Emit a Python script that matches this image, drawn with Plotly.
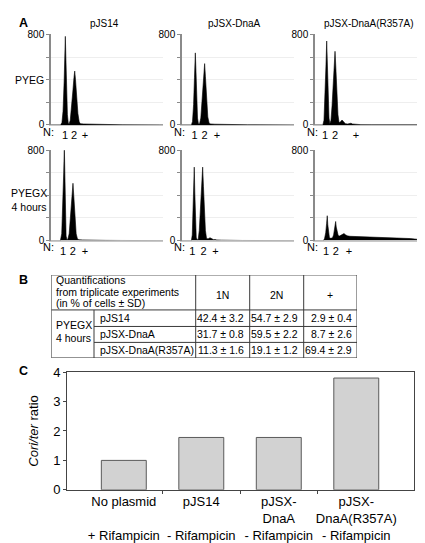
import plotly.graph_objects as go

# ---------------- DATA ----------------
# Panel A: flow cytometry histograms (DNA content channel vs cell count)
col_titles = ["pJS14", "pJSX-DnaA", "pJSX-DnaA(R357A)"]
row_titles = ["PYEG", "PYEGX<br>4 hours"]
n_tick_text = ["1", "2", "+"]

pJS14_PYEG_ch = [0, 88, 100, 110, 120, 126, 131, 136, 142, 150, 158, 166, 176, 188, 200, 210, 217, 224, 234, 246, 258, 270, 300, 350, 420, 520, 650, 1024]
pJS14_PYEG_cnt = [0, 0, 20, 120, 380, 620, 783, 600, 330, 90, 15, 10, 40, 150, 300, 420, 476, 400, 250, 100, 25, 10, 8, 6, 4, 2, 1, 0]
pJS14_PYEG_nticks = [128, 210, 311]

DnaA_PYEG_ch = [0, 86, 96, 106, 114, 122, 128, 134, 142, 150, 160, 172, 184, 196, 207, 214, 224, 236, 248, 262, 300, 360, 450, 600, 1024]
DnaA_PYEG_cnt = [0, 0, 30, 180, 420, 637, 470, 260, 60, 10, 8, 60, 200, 400, 542, 430, 230, 70, 15, 8, 6, 4, 2, 1, 0]
DnaA_PYEG_nticks = [115, 207, 320]

R357A_PYEG_ch = [0, 72, 82, 92, 100, 107, 113, 120, 128, 136, 146, 156, 166, 176, 183, 190, 200, 210, 220, 232, 247, 262, 278, 300, 318, 329, 342, 370, 420, 520, 1024]
R357A_PYEG_cnt = [0, 0, 40, 250, 520, 742, 520, 250, 60, 10, 40, 170, 380, 560, 651, 520, 280, 90, 20, 25, 43, 30, 10, 8, 12, 15, 8, 4, 2, 1, 0]
R357A_PYEG_nticks = [91, 183, 375]

pJS14_PYEGX_ch = [0, 86, 98, 108, 116, 122, 127, 132, 138, 146, 154, 166, 178, 190, 201, 208, 218, 230, 242, 256, 290, 340, 410, 500, 650, 1024]
pJS14_PYEGX_cnt = [0, 0, 60, 280, 600, 830, 560, 230, 40, 8, 12, 60, 200, 380, 507, 400, 220, 60, 15, 8, 6, 4, 3, 2, 1, 0]
pJS14_PYEGX_nticks = [110, 200, 311]

DnaA_PYEGX_ch = [0, 86, 94, 102, 108, 112, 117, 123, 130, 138, 148, 158, 168, 178, 189, 196, 205, 214, 224, 238, 256, 272, 290, 302, 318, 360, 430, 550, 1024]
DnaA_PYEGX_cnt = [0, 0, 50, 250, 500, 650, 430, 180, 30, 8, 10, 90, 280, 500, 650, 480, 250, 90, 20, 15, 25, 14, 8, 10, 6, 4, 2, 1, 0]
DnaA_PYEGX_nticks = [95, 198, 305]

R357A_PYEGX_ch = [0, 78, 88, 98, 106, 112, 117, 124, 132, 145, 160, 170, 178, 184, 189, 194, 202, 212, 224, 240, 255, 265, 278, 295, 320, 380, 450, 520, 600, 690, 780, 870, 950, 1010, 1024]
R357A_PYEGX_cnt = [0, 0, 20, 70, 150, 220, 140, 50, 25, 20, 25, 50, 100, 145, 169, 120, 70, 45, 40, 50, 58, 62, 52, 42, 38, 36, 35, 33, 31, 28, 24, 18, 10, 0, 0]
R357A_PYEGX_nticks = [100, 190, 311]

# Panel B: table
header_lines = ["Quantifications", "from triplicate experiments", "(in % of cells \u00b1 SD)"]
col_headers = ["1N", "2N", "+"]
condition_lines = ["PYEGX", "4 hours"]
samples = ["pJS14", "pJSX-DnaA", "pJSX-DnaA(R357A)"]
mean_1N = [42.4, 31.7, 11.3]
sd_1N = [3.2, 0.8, 1.6]
mean_2N = [54.7, 59.5, 19.1]
sd_2N = [2.9, 2.2, 1.2]
mean_plus = [2.9, 8.7, 69.4]
sd_plus = [0.4, 2.6, 2.9]

# Panel C: bar chart
bar_names = ["No plasmid", "pJS14", "pJSX-DnaA", "pJSX-DnaA(R357A)"]
bar_label_lines = ["No plasmid<br>&nbsp;", "pJS14<br>&nbsp;", "pJSX-<br>DnaA", "pJSX-<br>DnaA(R357A)"]
rifampicin = ["+ Rifampicin", "- Rifampicin", "- Rifampicin", "- Rifampicin"]
cori_ter_ratio = [1.0, 1.78, 1.78, 3.80]

# ---------------- LAYOUT ----------------
W, H = 425, 543
FONT = "Liberation Sans, Arial, sans-serif"


def fx(p):
    return p / W


def fy(p):
    return 1 - p / H


fig = go.Figure()
layout = dict(
    width=W, height=H, margin=dict(l=0, r=0, t=0, b=0),
    paper_bgcolor="white", plot_bgcolor="white", showlegend=False,
    font=dict(family=FONT, color="black", size=11),
)

hist_panels = [
    [(pJS14_PYEG_ch, pJS14_PYEG_cnt, pJS14_PYEG_nticks),
     (DnaA_PYEG_ch, DnaA_PYEG_cnt, DnaA_PYEG_nticks),
     (R357A_PYEG_ch, R357A_PYEG_cnt, R357A_PYEG_nticks)],
    [(pJS14_PYEGX_ch, pJS14_PYEGX_cnt, pJS14_PYEGX_nticks),
     (DnaA_PYEGX_ch, DnaA_PYEGX_cnt, DnaA_PYEGX_nticks),
     (R357A_PYEGX_ch, R357A_PYEGX_cnt, R357A_PYEGX_nticks)],
]
col_left = [43, 174, 307]
col_w = 112
row_top = [20, 139]
row_bot = [113, 232]

annotations = []
idx = 0
for r in range(2):
    for c in range(3):
        idx += 1
        ch, cnt, nt = hist_panels[r][c]
        xa = "x%d" % idx
        ya = "y%d" % idx
        fig.add_trace(go.Scatter(x=ch, y=cnt, mode="lines", fill="tozeroy",
                                 fillcolor="black", line=dict(color="black", width=0.6),
                                 xaxis=xa, yaxis=ya, hoverinfo="skip"))
        layout["xaxis%d" % idx] = dict(
            domain=[fx(col_left[c]), fx(col_left[c] + col_w)], anchor=ya,
            range=[0, 1024], showgrid=False, zeroline=False,
            showline=True, linecolor="#c8c8c8", linewidth=1,
            tickmode="array", tickvals=nt, ticktext=n_tick_text,
            ticks="", tickfont=dict(size=11), ticklabelstandoff=0,
        )
        layout["yaxis%d" % idx] = dict(
            domain=[fy(row_bot[r]), fy(row_top[r])], anchor=xa,
            range=[0, 800], showgrid=True, gridcolor="#eeeeee", gridwidth=1,
            zeroline=False, showline=True, linecolor="#8a8a8a", linewidth=1.5,
            tickmode="array", tickvals=[0, 200, 400, 600, 800],
            ticktext=["0", "", "", "", "800"], ticks="outside", ticklen=3,
            tickcolor="#8a8a8a", tickfont=dict(size=10), ticklabelstandoff=0,
        )
        annotations.append(dict(text="N:", x=fx(col_left[c] + 5), y=fy(row_bot[r] + 7),
                                xref="paper", yref="paper", xanchor="right", yanchor="middle",
                                showarrow=False, font=dict(size=11)))

col_title_x = [96, 226, 360]
for c, t in enumerate(col_titles):
    annotations.append(dict(text=t, x=fx(col_title_x[c]), y=fy(9), xref="paper", yref="paper",
                            xanchor="center", yanchor="middle", showarrow=False, font=dict(size=10)))
row_title_y = [67, 190]
for r, t in enumerate(row_titles):
    annotations.append(dict(text=t, x=fx(21), y=fy(row_title_y[r]), xref="paper", yref="paper",
                            xanchor="center", yanchor="middle", showarrow=False,
                            font=dict(size=10.5)))

for lab, (lx, ly) in zip(["A", "B", "C"], [(16, 8), (15, 273), (15, 366)]):
    annotations.append(dict(text="<b>%s</b>" % lab, x=fx(lx), y=fy(ly), xref="paper", yref="paper",
                            xanchor="center", yanchor="middle", showarrow=False,
                            font=dict(size=12.5)))

# ---------------- Panel B: table drawn in its own pixel-unit axis ----------------
T_L, T_R, T_T, T_B = 43.3, 349, 267.3, 352.7
col_edges = [43.3, 86, 187.7, 241.7, 295.7, 349]
row_edges = [267.3, 303.3, 320.3, 336.7, 352.7]
layout["xaxis8"] = dict(domain=[fx(T_L), fx(T_R)], range=[T_L, T_R], anchor="y8", visible=False)
layout["yaxis8"] = dict(domain=[fy(T_B), fy(T_T)], range=[T_B, T_T], anchor="x8", visible=False)
fig.add_trace(go.Scatter(x=[T_L], y=[T_T], xaxis="x8", yaxis="y8", mode="markers",
                         marker=dict(opacity=0), hoverinfo="skip"))

shapes = []
lc = dict(color="#3a3a3a", width=1)
shapes.append(dict(type="rect", xref="x8", yref="y8", x0=T_L, x1=T_R, y0=T_T, y1=T_B, line=lc))
shapes.append(dict(type="line", xref="x8", yref="y8", x0=T_L, x1=T_R, y0=row_edges[1], y1=row_edges[1], line=lc))
for xe in col_edges[2:5]:
    shapes.append(dict(type="line", xref="x8", yref="y8", x0=xe, x1=xe, y0=T_T, y1=T_B, line=lc))
shapes.append(dict(type="line", xref="x8", yref="y8", x0=col_edges[1], x1=col_edges[1],
                   y0=row_edges[1], y1=T_B, line=lc))
for ye in row_edges[2:4]:
    shapes.append(dict(type="line", xref="x8", yref="y8", x0=col_edges[1], x1=T_R, y0=ye, y1=ye, line=lc))

TF = dict(size=10.5)
for ly, t in zip([272.3, 284.6, 295.7], header_lines):
    annotations.append(dict(text=t, x=46, y=ly, xref="x8", yref="y8", xanchor="left",
                            yanchor="middle", showarrow=False, font=TF))
for i, t in enumerate(col_headers):
    cx = (col_edges[2 + i] + col_edges[3 + i]) / 2
    annotations.append(dict(text=t, x=cx, y=288.3, xref="x8", yref="y8", xanchor="center",
                            yanchor="middle", showarrow=False, font=TF))
for ly, t in zip([318.3, 331.7], condition_lines):
    annotations.append(dict(text=t, x=46, y=ly, xref="x8", yref="y8", xanchor="left",
                            yanchor="middle", showarrow=False, font=TF))
for i, s in enumerate(samples):
    cy = (row_edges[1 + i] + row_edges[2 + i]) / 2
    annotations.append(dict(text=s, x=89.5, y=cy, xref="x8", yref="y8", xanchor="left",
                            yanchor="middle", showarrow=False, font=TF))
    for j, (m, sd) in enumerate([(mean_1N, sd_1N), (mean_2N, sd_2N), (mean_plus, sd_plus)]):
        annotations.append(dict(text="%.1f \u00b1 %.1f" % (m[i], sd[i]), x=col_edges[3 + j] - 3.5,
                                y=cy, xref="x8", yref="y8", xanchor="right", yanchor="middle",
                                showarrow=False, font=TF))

# ---------------- Panel C: bar chart ----------------
fig.add_trace(go.Bar(x=list(range(len(bar_names))), y=cori_ter_ratio, width=0.58,
                     marker=dict(color="#d2d2d2", line=dict(color="#5a5a5a", width=1)),
                     xaxis="x7", yaxis="y7", hovertext=bar_names))
layout["xaxis7"] = dict(
    domain=[fx(59), fx(406)], anchor="y7", range=[-0.733, 3.745],
    tickmode="array", tickvals=list(range(len(bar_names))),
    ticktext=["%s<br>%s" % (a, b) for a, b in zip(bar_label_lines, rifampicin)],
    ticks="", tickfont=dict(size=13), showline=True, mirror=True,
    linecolor="#444444", linewidth=1, showgrid=False, zeroline=False,
    minor=dict(tickvals=[0.5, 1.5, 2.5], ticks="outside", ticklen=3, tickcolor="#444444"),
)
layout["yaxis7"] = dict(
    domain=[fy(488.3), fy(367.3)], anchor="x7", range=[0, 4],
    tickmode="array", tickvals=[0, 1, 2, 3, 4], ticks="outside", ticklen=3,
    tickcolor="#444444", tickfont=dict(size=13), showline=True, mirror=True,
    linecolor="#444444", linewidth=1, showgrid=False, zeroline=False,
    title=dict(text="<i>Cori/ter</i> ratio", font=dict(size=13), standoff=11),
)

layout["annotations"] = annotations
layout["shapes"] = shapes
fig.update_layout(**layout)
fig.write_html("out.html")
